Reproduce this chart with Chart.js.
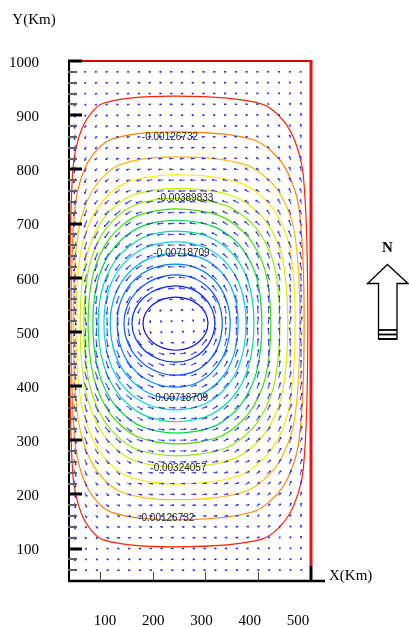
<!DOCTYPE html>
<html>
<head>
<meta charset="utf-8">
<script src="https://cdn.jsdelivr.net/npm/chart.js@4.4.1/dist/chart.umd.min.js"></script>
<style>
  html, body { margin: 0; padding: 0; background: #fff; }
</style>
</head>
<body>
<canvas id="gyre" width="409" height="627"></canvas>
<script>
// Stream function levels, outermost (red) to innermost (blue)
const levels = [-0.00060957, -0.00126732, -0.00192507, -0.00258282, -0.00324057,
  -0.00389833, -0.00455608, -0.00521383, -0.00587158, -0.00652934,
  -0.00718709, -0.00784484, -0.00850259, -0.00916035, -0.00981810];
const levelColors = ['#ff2200', '#ff8000', '#ffb800', '#ffe800', '#d0f000',
  '#90ec00', '#40e000', '#00dc40', '#00dc9c', '#00d8dc',
  '#00b0ff', '#0084ff', '#0058ff', '#0030ee', '#1414cc'];

// Where each contour crosses the lines through the gyre centre (km)
const westX  = [43, 46, 50, 55, 63, 70, 78, 87, 97, 108, 120, 133, 146, 161, 182];
const eastX  = [494, 487, 479, 470, 456, 441, 424, 407, 392, 377, 362, 347, 332, 318, 305];
const northY = [935, 869, 823, 790, 765, 747, 727, 706, 686, 666, 645, 625, 605, 585, 564];
const southY = [103, 153, 190, 219, 250, 271, 293, 313, 334, 356, 376, 398, 420, 444, 466];
// squareness of the east and west halves (2 = ellipse, larger = boxier)
const pEast = [4.5, 3.8, 3.3, 3.0, 2.8, 2.6, 2.5, 2.4, 2.3, 2.2, 2.2, 2.1, 2.1, 2.0, 2.0];
const pWest = [5.0, 4.0, 3.2, 2.8, 2.6, 2.5, 2.4, 2.3, 2.2, 2.2, 2.1, 2.1, 2.0, 2.0, 2.0];
const gyreCenter = [244, 516];
const psiMin = -0.0103;

// contour labels: level index and anchor (km)
const labelLevel = [1, 5, 10, 10, 4, 1];
const labelX = [233, 262, 255, 252, 249, 226];
const labelY = [860, 747, 645, 378, 249, 156];

const xTicks = [100, 200, 300, 400, 500];
const yTicks = [100, 200, 300, 400, 500, 600, 700, 800, 900, 1000];
const xRange = [40, 500];
const yRange = [40, 1000];
// the printed x labels sit on their own, slightly narrower scale
const xLabelRange = [23.3, 526.9];

// velocity sampling grid (km)
const gridX = Array.from({length: 22}, (_, i) => 53 + i * 20.38);
const gridY = Array.from({length: 47}, (_, i) => 60 + i * 20);

const [cx, cy] = gyreCenter;

// 16 vertices per contour on a superellipse through its four crossings
function contourPoints(i) {
  const pts = [];
  for (let k = 0; k < 16; k++) {
    const t = k * Math.PI / 8;
    const c = Math.cos(t), s = Math.sin(t);
    const east = c >= -1e-9;
    const a = east ? eastX[i] - cx : cx - westX[i];
    const b = s >= 0 ? northY[i] - cy : cy - southY[i];
    const p = east ? pEast[i] : pWest[i];
    pts.push({
      x: cx + Math.sign(c) * a * Math.abs(c) ** (2 / p),
      y: cy + Math.sign(s) * b * Math.abs(s) ** (2 / p)
    });
  }
  return pts;
}

// polar outline of every contour, used to rebuild psi between them
const rings = levels.map((_, i) => contourPoints(i).map(p => ({
  a: Math.atan2(p.y - cy, p.x - cx),
  r: Math.hypot(p.x - cx, p.y - cy)
})));

function ringRadius(ring, a) {
  const TWO_PI = 2 * Math.PI;
  for (let k = 0; k < ring.length; k++) {
    const p = ring[k], q = ring[(k + 1) % ring.length];
    const span = (q.a - p.a + TWO_PI) % TWO_PI;
    const t = (a - p.a + TWO_PI) % TWO_PI;
    if (t <= span) return p.r + (q.r - p.r) * t / span;
  }
  return ring[0].r;
}

function edgeRadius(a) {
  const dx = Math.cos(a), dy = Math.sin(a);
  const tx = dx > 0 ? (xRange[1] - cx) / dx : dx < 0 ? (xRange[0] - cx) / dx : Infinity;
  const ty = dy > 0 ? (yRange[1] - cy) / dy : dy < 0 ? (yRange[0] - cy) / dy : Infinity;
  return Math.min(tx, ty);
}

function psi(x, y) {
  const a = Math.atan2(y - cy, x - cx), r = Math.hypot(x - cx, y - cy);
  const n = levels.length;
  const rIn = ringRadius(rings[n - 1], a);
  if (r <= rIn) return psiMin + (levels[n - 1] - psiMin) * (r / rIn) ** 2;
  let rPrev = rIn, pPrev = levels[n - 1];
  for (let i = n - 2; i >= 0; i--) {
    const ri = ringRadius(rings[i], a);
    if (r <= ri) return pPrev + (levels[i] - pPrev) * (r - rPrev) / (ri - rPrev);
    rPrev = ri; pPrev = levels[i];
  }
  const rb = edgeRadius(a);
  return pPrev * Math.max(0, (rb - r) / (rb - rPrev));
}

// velocity u = -dpsi/dy, v = dpsi/dx at each grid node
const arrowScale = 165000;   // px per (psi/km)
const arrowMax = 7;
const flowNodes = [], flowLen = [], flowAngle = [];
gridX.forEach(x => gridY.forEach(y => {
  const h = 1;
  const dpdx = (psi(x + h, y) - psi(x - h, y)) / (2 * h);
  const dpdy = (psi(x, y + h) - psi(x, y - h)) / (2 * h);
  const u = -dpdy, v = dpdx;
  flowNodes.push({x, y});
  flowLen.push(Math.min(arrowMax, Math.hypot(u, v) * arrowScale));
  flowAngle.push(Math.atan2(-v, u) * 180 / Math.PI);
}));

const contourSets = levels.map((lv, i) => ({
  label: String(lv),
  data: contourPoints(i),
  showLine: true,
  closed: true,
  borderColor: levelColors[i],
  borderWidth: 1.2,
  tension: 0.3,
  pointRadius: 0,
  order: 2
}));

const flowSet = {
  label: 'flow',
  data: flowNodes,
  showLine: false,
  pointStyle: 'line',
  pointRadius: c => Math.max(0.01, flowLen[c.dataIndex] / 2),
  rotation: c => flowAngle[c.dataIndex],
  borderColor: '#4646ff',
  borderWidth: 1.1,
  order: 1
};

// radar-style closing of the contour splines
const closeContours = {
  id: 'closeContours',
  afterDatasetsUpdate(chart) {
    chart.data.datasets.forEach((ds, i) => {
      if (!ds.closed) return;
      const line = chart.getDatasetMeta(i).dataset;
      if (!line) return;
      line._loop = true;
      line._fullLoop = true;
      line._pointsUpdated = false;
      delete line._segments;
      line._path = undefined;
    });
  }
};

// arrow heads and contour labels
const overlays = {
  id: 'overlays',
  afterDatasetsDraw(chart) {
    const ctx = chart.ctx;
    const idx = chart.data.datasets.indexOf(flowSet);
    const pts = chart.getDatasetMeta(idx).data;
    ctx.save();
    ctx.fillStyle = '#1a1ae6';
    pts.forEach((p, i) => {
      const a = flowAngle[i] * Math.PI / 180, half = flowLen[i] / 2;
      const hx = p.x + Math.cos(a) * half, hy = p.y + Math.sin(a) * half;
      ctx.fillRect(hx - 0.8, hy - 0.8, 1.6, 1.6);
    });
    ctx.font = '10px "Liberation Sans", Arial, sans-serif';
    ctx.fillStyle = '#222';
    ctx.textAlign = 'center';
    ctx.textBaseline = 'middle';
    labelLevel.forEach((li, k) => {
      const px = chart.scales.x.getPixelForValue(labelX[k]);
      const py = chart.scales.y.getPixelForValue(labelY[k]);
      ctx.fillText(levels[li].toFixed(8), px, py);
    });
    ctx.restore();
  }
};

// axes, boundaries, titles and north arrow
const frame = {
  id: 'frame',
  afterDraw(chart) {
    const ctx = chart.ctx;
    const {left, right, top, bottom} = chart.chartArea;
    const xs = chart.scales.x, ys = chart.scales.y;
    ctx.save();
    ctx.lineCap = 'butt';

    // north and east boundaries
    ctx.strokeStyle = '#d80000';
    ctx.lineWidth = 2;
    ctx.beginPath(); ctx.moveTo(left, top); ctx.lineTo(right, top); ctx.stroke();
    ctx.strokeStyle = '#ee1010';
    ctx.lineWidth = 3;
    ctx.beginPath(); ctx.moveTo(right, top - 1); ctx.lineTo(right, bottom - 15); ctx.stroke();

    // west axis with inward ticks every 20 km
    ctx.strokeStyle = '#000';
    ctx.lineWidth = 2;
    ctx.beginPath(); ctx.moveTo(left + 1, top - 1); ctx.lineTo(left + 1, bottom); ctx.stroke();
    for (let v = 60; v <= yRange[1]; v += 20) {
      const py = Math.round(ys.getPixelForValue(v));
      const major = v % 100 === 0;
      ctx.strokeStyle = major ? '#000' : '#606060';
      ctx.lineWidth = major ? 3 : 2;
      ctx.beginPath();
      ctx.moveTo(left, py);
      ctx.lineTo(left + (major ? 14 : 9), py);
      ctx.stroke();
    }

    // south axis
    ctx.strokeStyle = '#000';
    ctx.lineWidth = 2.5;
    ctx.beginPath(); ctx.moveTo(left, bottom); ctx.lineTo(right + 14, bottom); ctx.stroke();
    xTicks.forEach(v => {
      const px = Math.round(xs.getPixelForValue(v));
      const last = v === xRange[1];
      ctx.strokeStyle = last ? '#000' : '#444';
      ctx.lineWidth = last ? 3 : 1;
      ctx.beginPath();
      ctx.moveTo(px + (last ? 0 : 0.5), bottom);
      ctx.lineTo(px + (last ? 0 : 0.5), bottom - (last ? 15 : 9));
      ctx.stroke();
    });

    // titles
    ctx.fillStyle = '#000';
    ctx.font = '15px "Liberation Serif", "Times New Roman", serif';
    ctx.textBaseline = 'middle';
    ctx.textAlign = 'center';
    ctx.fillText('Y(Km)', 34, 20);
    ctx.textAlign = 'left';
    ctx.fillText('X(Km)', 329, 576);

    // north arrow
    ctx.font = 'bold 15px "Liberation Serif", "Times New Roman", serif';
    ctx.textAlign = 'center';
    ctx.fillText('N', 387.5, 248);
    ctx.strokeStyle = '#000';
    ctx.lineWidth = 1.3;
    ctx.lineJoin = 'miter';
    ctx.beginPath();
    ctx.moveTo(387.5, 264.5);
    ctx.lineTo(408, 283.5);
    ctx.lineTo(397, 283.5);
    ctx.lineTo(397, 339);
    ctx.lineTo(378.5, 339);
    ctx.lineTo(378.5, 283.5);
    ctx.lineTo(367.5, 283.5);
    ctx.closePath();
    ctx.stroke();
    ctx.lineWidth = 1.8;
    [330, 334.5, 339].forEach(y => {
      ctx.beginPath(); ctx.moveTo(378.5, y); ctx.lineTo(397, y); ctx.stroke();
    });
    ctx.restore();
  }
};

const axisFont = {family: '"Liberation Serif", "Times New Roman", serif', size: 15};

new Chart(document.getElementById('gyre'), {
  type: 'scatter',
  data: { datasets: [flowSet, ...contourSets] },
  options: {
    responsive: false,
    animation: false,
    events: [],
    layout: { padding: { top: 61, right: 98, left: 0, bottom: 0 } },
    plugins: { legend: { display: false }, tooltip: { enabled: false } },
    scales: {
      x: {
        type: 'linear',
        display: false,
        min: xRange[0], max: xRange[1]
      },
      xLabels: {
        type: 'linear',
        position: 'bottom',
        min: xLabelRange[0], max: xLabelRange[1],
        afterBuildTicks: axis => { axis.ticks = xTicks.map(v => ({value: v})); },
        afterFit: axis => { axis.height = 46; },
        grid: { display: false },
        border: { display: false },
        ticks: { color: '#000', font: axisFont, padding: 23, maxRotation: 0, autoSkip: false,
                 callback: v => String(v) }
      },
      y: {
        type: 'linear',
        min: yRange[0], max: yRange[1],
        afterBuildTicks: axis => { axis.ticks = yTicks.map(v => ({value: v})); },
        afterFit: axis => { axis.width = 68; },
        grid: { display: false },
        border: { display: false },
        ticks: { color: '#000', font: axisFont, padding: 21, labelOffset: 2, autoSkip: false,
                 callback: v => String(v) }
      }
    }
  },
  plugins: [closeContours, overlays, frame]
});
</script>
</body>
</html>
